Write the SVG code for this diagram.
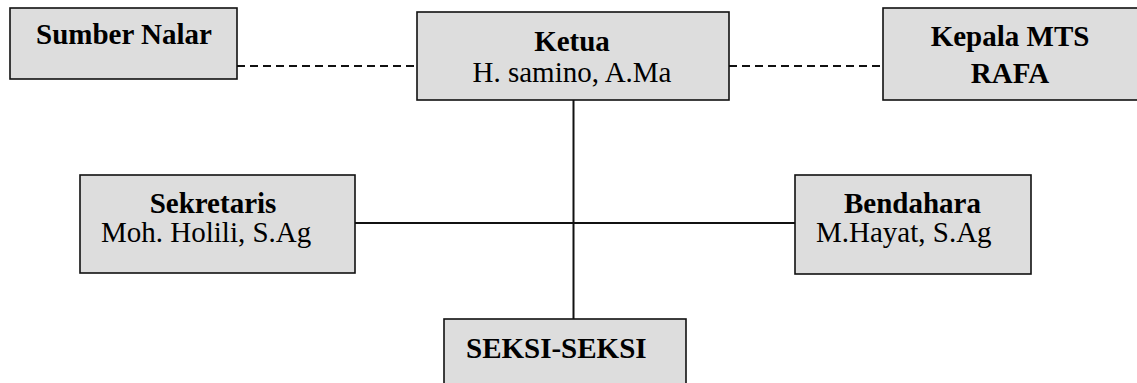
<svg xmlns="http://www.w3.org/2000/svg" width="1137" height="383" viewBox="0 0 1137 383">
<style>
.box{fill:#dddddd;stroke:#111;stroke-width:1.6}
.t{font-family:"Liberation Serif","Times New Roman",serif;font-size:29px;fill:#000}
.b{font-weight:bold}
.ln{stroke:#111;stroke-width:2;fill:none}
.dash{stroke:#111;stroke-width:2;fill:none;stroke-dasharray:8 5}
</style>
<rect width="1137" height="383" fill="#fff"/>
<g id="connectors">
<line class="dash" x1="237" y1="66" x2="417" y2="66"/>
<line class="dash" x1="729" y1="66" x2="883" y2="66"/>
<line class="ln" x1="573.5" y1="100" x2="573.5" y2="319"/>
<line class="ln" x1="355" y1="223" x2="795" y2="223"/>
</g>
<g id="sumber-nalar">
<rect class="box" x="10" y="8" width="227" height="71"/>
<text class="t b" x="36" y="44">Sumber Nalar</text>
</g>
<g id="ketua">
<rect class="box" x="417" y="12" width="312" height="88"/>
<text class="t b" x="572" y="51" text-anchor="middle">Ketua</text>
<text class="t" x="572" y="82" text-anchor="middle">H. samino, A.Ma</text>
</g>
<g id="kepala-mts">
<rect class="box" x="883" y="8" width="260" height="92"/>
<text class="t b" x="1010" y="46" text-anchor="middle">Kepala MTS</text>
<text class="t b" x="1010" y="83" text-anchor="middle">RAFA</text>
</g>
<g id="sekretaris">
<rect class="box" x="80" y="175" width="275" height="98"/>
<text class="t b" x="213" y="213" text-anchor="middle">Sekretaris</text>
<text class="t" x="101" y="242">Moh. Holili, S.Ag</text>
</g>
<g id="bendahara">
<rect class="box" x="795" y="175" width="236" height="99"/>
<text class="t b" x="912.5" y="213" text-anchor="middle">Bendahara</text>
<text class="t" x="816" y="242">M.Hayat, S.Ag</text>
</g>
<g id="seksi">
<rect class="box" x="444" y="319" width="242" height="80"/>
<text class="t b" x="466" y="358">SEKSI-SEKSI</text>
</g>
</svg>
